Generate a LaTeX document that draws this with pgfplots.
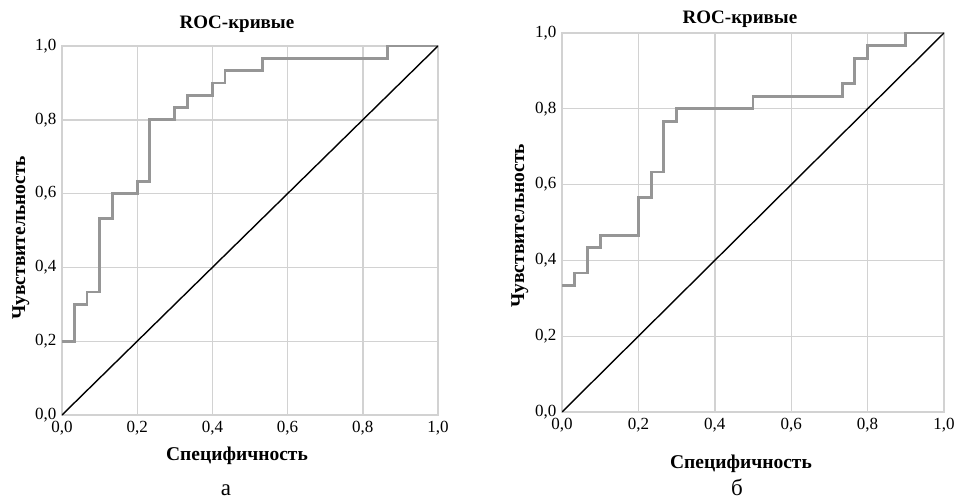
\documentclass[border=0pt]{standalone}
\usepackage{pgfplots}
\pgfplotsset{compat=1.18}
\usepackage{fontspec}
\setmainfont{Liberation Serif}
\definecolor{gridc}{RGB}{210,210,210}
\definecolor{curvec}{RGB}{150,150,150}
\pgfplotsset{
  rocax/.style={
    scale only axis,
    xmin=0, xmax=1, ymin=0, ymax=1,
    xtick={0,0.2,...,1}, ytick={0,0.2,...,1},
    grid=major,
    major grid style={gridc, line width=1.4pt},
    axis line style={gridc, line width=1.4pt},
    major tick style={draw=none},
    tick label style={font=\fontsize{17}{19}\selectfont},
    xticklabel style={yshift=-3pt},
    yticklabel style={xshift=-2pt},
    /pgf/number format/.cd, use comma, fixed, fixed zerofill, precision=1, assume math mode=true,
  }
}
\begin{document}
\begin{tikzpicture}[x=1pt,y=1pt]
\useasboundingbox (0,0) rectangle (959,499);
\begin{axis}[rocax, anchor=south west, at={(62pt,84pt)}, width=376pt, height=369pt]
\addplot[curvec, line width=2.8pt, const plot] coordinates {
(0,0.2) (0.0333,0.3) (0.0667,0.3333) (0.1,0.5333) (0.1333,0.6) (0.2,0.6333)
(0.2333,0.8) (0.3,0.8333) (0.3333,0.8667) (0.4,0.9) (0.4333,0.9333)
(0.5333,0.9667) (0.8667,1.0) (1,1.0)};
\addplot[black, line width=1.4pt] coordinates {(0,0) (1,1)};
\end{axis}
\begin{axis}[rocax, anchor=south west, at={(562pt,87pt)}, width=382pt, height=379pt]
\addplot[curvec, line width=2.8pt, const plot] coordinates {
(0,0.3333) (0.0333,0.3667) (0.0667,0.4333) (0.1,0.4667) (0.2,0.5667)
(0.2333,0.6333) (0.2667,0.7667) (0.3,0.8) (0.5,0.8333) (0.7333,0.8667)
(0.7667,0.9333) (0.8,0.9667) (0.9,1.0) (1,1.0)};
\addplot[black, line width=1.4pt] coordinates {(0,0) (1,1)};
\end{axis}
% titles
\node[anchor=base, font=\fontsize{19}{21}\selectfont\bfseries, inner sep=0pt] at (237,470) {ROC-кривые};
\node[anchor=base, font=\fontsize{19}{21}\selectfont\bfseries, inner sep=0pt] at (740,475) {ROC-кривые};
% x labels
\node[anchor=base, font=\fontsize{19.5}{21}\selectfont\bfseries, inner sep=0pt] at (237,39) {Специфичность};
\node[anchor=base, font=\fontsize{19.5}{21}\selectfont\bfseries, inner sep=0pt] at (741,31) {Специфичность};
% y labels
\node[anchor=base, rotate=90, font=\fontsize{19.5}{21}\selectfont\bfseries, inner sep=0pt] at (25,261) {Чувствительность};
\node[anchor=base, rotate=90, font=\fontsize{19.5}{21}\selectfont\bfseries, inner sep=0pt] at (524,273) {Чувствительность};
% captions
\node[anchor=base, font=\fontsize{23}{25}\selectfont, inner sep=0pt] at (226,4) {а};
\node[anchor=base, font=\fontsize{23}{25}\selectfont, inner sep=0pt] at (737,4) {б};
\end{tikzpicture}
\end{document}
